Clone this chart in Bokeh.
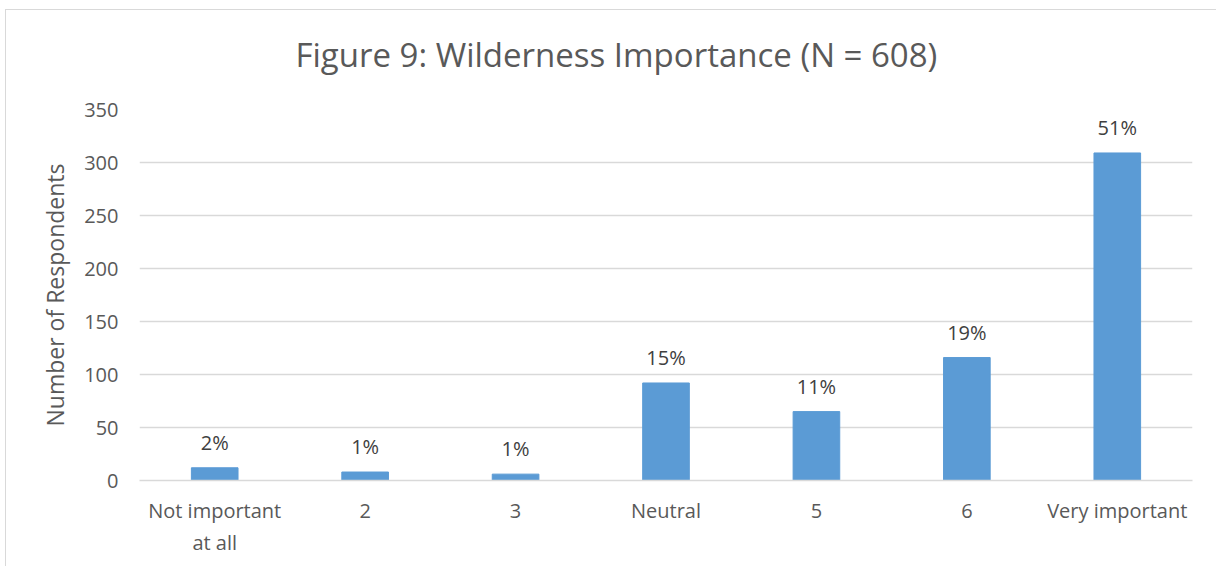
from bokeh.plotting import figure
from bokeh.models import ColumnDataSource, Range1d, FixedTicker, Title
from bokeh.core.properties import value
from bokeh.embed import file_html
from bokeh.resources import INLINE

categories = ["Not important\nat all", "2", "3", "Neutral", "5", "6", "Very important"]
counts = [12, 8, 6, 92, 65, 116, 309]
pct_labels = ["2%", "1%", "1%", "15%", "11%", "19%", "51%"]
y_ticks = [0, 50, 100, 150, 200, 250, 300, 350]
title_text = "Figure 9: Wilderness Importance (N = 608)"

FONT = "Open Sans"
TXT = "#595959"

src = ColumnDataSource(dict(cat=categories, cnt=counts, pct=pct_labels))

p = figure(x_range=categories, y_range=Range1d(0, 350),
           width=1211, height=557, output_backend="svg", toolbar_location=None,
           min_border_left=133, min_border_right=25, min_border_top=99, min_border_bottom=87)
p.styles = {"border-left": "1px solid #d9d9d9", "border-top": "1px solid #d9d9d9",
            "margin-left": "5px", "margin-top": "9px"}
p.title = None

p.vbar(x="cat", top="cnt", width=0.31, source=src, color="#5B9BD5")
p.text(x="cat", y="cnt", text="pct", source=src, text_align="center", text_baseline="bottom",
       y_offset=-12, text_font=value(FONT), text_font_size="20px", text_color="#404040")

# spacer between the chart title and the plot area
p.add_layout(Title(text=" ", text_font=FONT, text_font_size="14px", standoff=12), "above")
p.add_layout(Title(text=title_text, align="left", offset=156,
                   text_font=FONT, text_font_size="33px", text_font_style="normal",
                   text_color=TXT, standoff=0), "above")

p.outline_line_color = None
p.xgrid.grid_line_color = None
p.ygrid.grid_line_color = "#d9d9d9"
p.ygrid.grid_line_width = 1.3
p.yaxis.ticker = FixedTicker(ticks=y_ticks)

for ax in (p.xaxis, p.yaxis):
    ax.axis_line_color = None
    ax.major_tick_line_color = None
    ax.minor_tick_line_color = None
    ax.major_label_text_font = FONT
    ax.major_label_text_font_size = "20px"
    ax.major_label_text_color = TXT

p.xaxis.axis_line_color = "#d9d9d9"
p.xaxis.axis_line_width = 1.3
p.xaxis.major_label_standoff = 10
p.yaxis.major_label_standoff = 15
p.yaxis.axis_label = "Number of Respondents"
p.yaxis.axis_label_text_font = FONT
p.yaxis.axis_label_text_font_size = "23px"
p.yaxis.axis_label_text_font_style = "normal"
p.yaxis.axis_label_text_color = TXT
p.yaxis.axis_label_standoff = 10

open("out.html", "w").write(file_html(p, INLINE))
